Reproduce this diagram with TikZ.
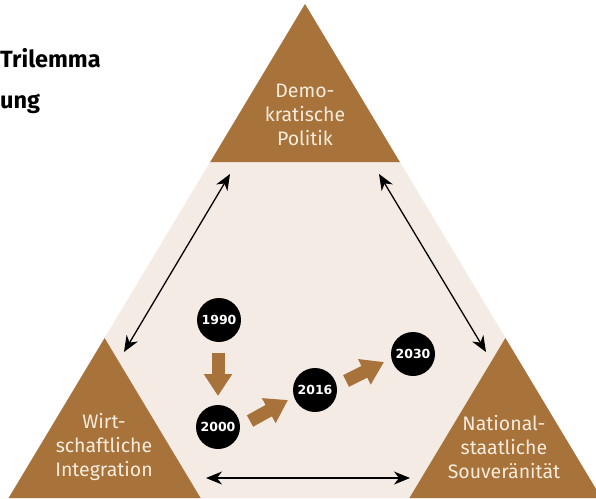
\documentclass[tikz,border=0pt]{standalone}
\usepackage{fontspec}
\setmainfont{Fira Sans}
\newfontfamily\yearfont{DejaVu Sans}
\usetikzlibrary{arrows.meta}
\definecolor{brownc}{RGB}{168,115,58}
\definecolor{beigec}{RGB}{244,235,228}
\definecolor{creamc}{RGB}{246,236,222}
\tikzset{
  corner/.style={fill=brownc},
  cornerlabel/.style={text=creamc, align=center, font=\fontsize{19.5}{24}\selectfont, inner sep=0pt},
  year/.style={circle, fill=black, minimum size=44pt, inner sep=0pt, text=white, font=\yearfont\bfseries\fontsize{12.5}{12.5}\selectfont},
  blockarrow/.style={draw=brownc, line width=13pt, -{Triangle[length=22pt,width=27pt]}},
  twoway/.style={draw=black, line width=1.3pt, {Stealth[length=16pt,width=13pt,inset=5pt]}-{Stealth[length=16pt,width=13pt,inset=5pt]}},
  title/.style={font=\bfseries\fontsize{23.5}{28}\selectfont, anchor=base west, inner sep=0pt}
}
\begin{document}
\begin{tikzpicture}[x=1pt,y=-1pt]
\useasboundingbox (0,0) rectangle (596,498);
\clip (0,0) rectangle (596,498);
% large background triangle
\fill[beigec] (305,4) -- (601.4,498) -- (8.6,498) -- cycle;
% corner triangles
\fill[corner] (305,4) -- (399.8,162) -- (210.2,162) -- cycle;
\fill[corner] (104.6,338) -- (200.6,498) -- (8.6,498) -- cycle;
\fill[corner] (505.4,338) -- (601.4,498) -- (409.4,498) -- cycle;
% labels
\node[cornerlabel] (demo) at (305,115) {Demo-\\kratische\\Politik};
\node[cornerlabel] (wirt) at (104,447) {Wirt-\\schaftliche\\Integration};
\node[cornerlabel] (nat) at (504,447) {National-\\staatliche\\Souveränität};
% title
\node[title] (t1) at (0,67) {Trilemma};
\node[title] (t2) at (0,108) {ung};
% connectors between corners
\coordinate (lt) at (230,174);
\coordinate (lb) at (124,352);
\coordinate (rt) at (379,174);
\coordinate (rb) at (486,352);
\coordinate (bl) at (206,478);
\coordinate (br) at (410,478);
\draw[twoway] (lt) -- (lb);
\draw[twoway] (rt) -- (rb);
\draw[twoway] (bl) -- (br);
% years
\node[year] (y1990) at (219,320) {1990};
\node[year] (y2000) at (218,427) {2000};
\node[year] (y2016) at (315,390) {2016};
\node[year] (y2030) at (413,354) {2030};
\coordinate (a1s) at (218,353);
\coordinate (a1e) at (218,396);
\coordinate (a2s) at (250,421);
\coordinate (a2e) at (288,400);
\coordinate (a3s) at (346,381);
\coordinate (a3e) at (384,362);
\draw[blockarrow] (a1s) -- (a1e);
\draw[blockarrow] (a2s) -- (a2e);
\draw[blockarrow] (a3s) -- (a3e);
\end{tikzpicture}
\end{document}
